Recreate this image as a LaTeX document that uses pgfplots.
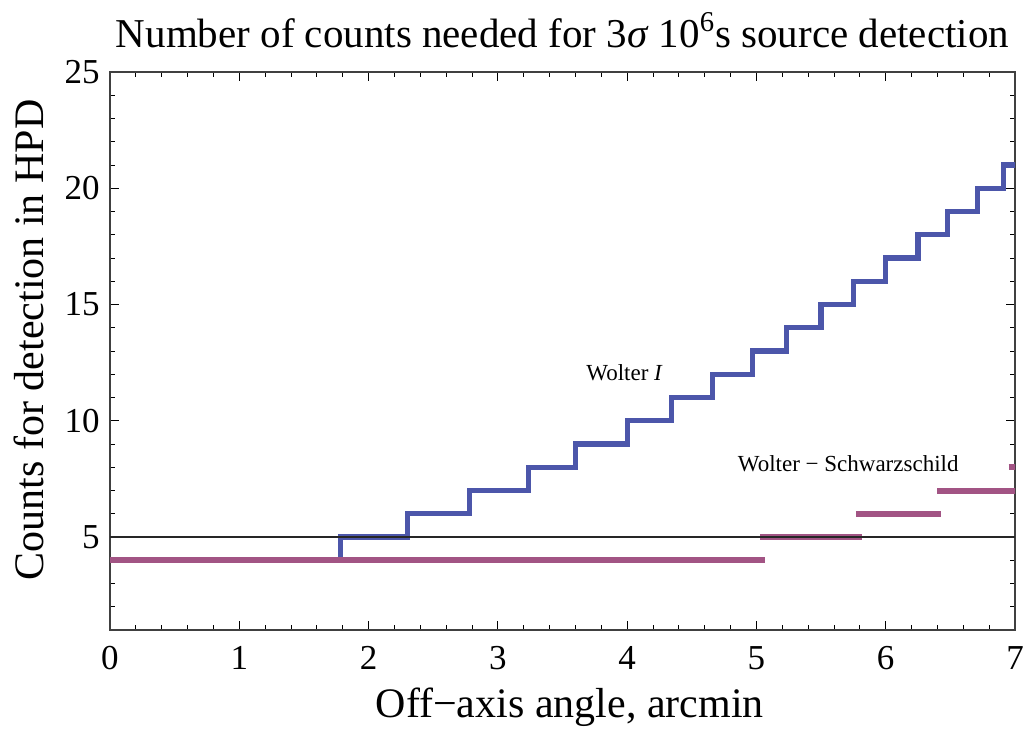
\documentclass[border=0pt]{standalone}
\usepackage{fontspec}
\setmainfont{Liberation Serif}
\usepackage{pgfplots}
\pgfplotsset{compat=1.18}
\usetikzlibrary{calc}
\definecolor{wblue}{RGB}{76,86,170}
\definecolor{wpurp}{RGB}{162,84,132}
\begin{document}
\begin{tikzpicture}
\begin{axis}[
  name=ax,
  scale only axis, width=452.5pt, height=279pt,
  xmin=0, xmax=7, ymin=1, ymax=25,
  xtick={0,1,...,7}, ytick={5,10,...,25},
  minor xtick={0.2,0.4,...,6.9},
  minor ytick={1,2,...,25},
  tick align=inside,
  major tick length=4.5pt, minor tick length=2.5pt,
  every tick/.style={black, line width=0.5pt},
  axis line style={black!75, line width=0.8pt},
  /pgf/number format/assume math mode=true,
  ticklabel style={font=\fontsize{17.5}{17.5}\selectfont, inner sep=0pt},
  xticklabel style={anchor=base, yshift=-19.5pt},
  yticklabel style={anchor=east, xshift=-5pt},
  title={Number of counts needed for 3\textit{σ} 10\textsuperscript{6}s source detection},
  title style={font=\fontsize{20.5}{22}\selectfont, inner sep=0pt, at={(axis description cs:0.5,1.0233)}, anchor=base},
  xlabel={Off−axis angle, arcmin},
  xlabel style={font=\fontsize{21}{22}\selectfont, inner sep=0pt, at={(axis description cs:0.508,-0.156)}, anchor=base},
  ylabel={Counts for detection in HPD},
  ylabel style={font=\fontsize{21}{22}\selectfont, inner sep=0pt, at={(axis description cs:-0.074,0.52)}, anchor=base},
  line join=miter,
]
\addplot[const plot, wblue, line width=2.6pt] coordinates {
 (0,4) (1.78,5) (2.30,6) (2.78,7) (3.24,8) (3.60,9) (4.00,10) (4.34,11)
 (4.66,12) (4.97,13) (5.23,14) (5.50,15) (5.75,16) (6.00,17) (6.25,18)
 (6.48,19) (6.71,20) (6.91,21) (7.2,21)};
\addplot[wpurp, line width=3pt] coordinates {(0,4) (5.07,4)};
\addplot[wpurp, line width=3pt] coordinates {(5.03,5) (5.82,5)};
\addplot[wpurp, line width=3pt] coordinates {(5.77,6) (6.43,6)};
\addplot[wpurp, line width=3pt] coordinates {(6.40,7) (7.2,7)};
\addplot[wpurp, line width=3pt] coordinates {(6.95,8) (7.2,8)};
\addplot[black!85, line width=0.6pt] coordinates {(0,5) (7,5)};
\node[font=\fontsize{11.5}{12}\selectfont] at (axis cs:3.98,12.07) {Wolter \textit{I}};
\node[font=\fontsize{11.5}{12}\selectfont] at (axis cs:5.71,8.15) {Wolter − Schwarzschild};
\end{axis}
\path ($(ax.south west)+(-55pt,-49.5pt)$) rectangle ($(ax.north east)+(7.5pt,36pt)$);
\end{tikzpicture}
\end{document}
